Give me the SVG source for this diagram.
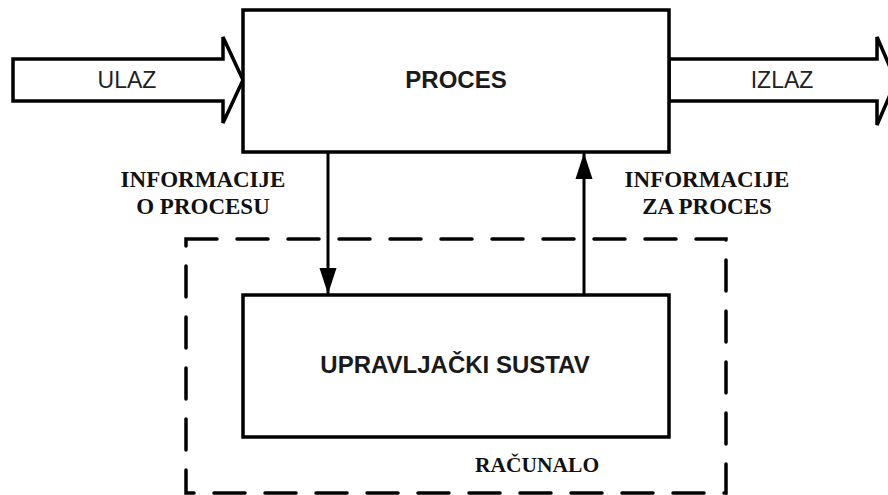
<svg xmlns="http://www.w3.org/2000/svg" width="888" height="495" viewBox="0 0 888 495">
<style>
.box{fill:#fff;stroke:#000;stroke-width:3.5}
.ln{fill:none;stroke:#000;stroke-width:3}
.big{fill:#fff;stroke:#000;stroke-width:3.5;stroke-linejoin:miter}
.sans{font-family:"Liberation Sans",Arial,sans-serif;font-size:23px;fill:#222}
.sansb{font-family:"Liberation Sans",Arial,sans-serif;font-size:24px;font-weight:bold;fill:#1a1a1a}
.serif{font-family:"Liberation Serif","Times New Roman",serif;font-size:23px;font-weight:bold;fill:#111}
</style>
<defs>
<marker id="ah" markerWidth="26" markerHeight="18" refX="26" refY="9" orient="auto" markerUnits="userSpaceOnUse">
<path d="M0,0.5 L26,9 L0,17.5 Z" fill="#000"/>
</marker>
</defs>
<g id="racunalo">
<rect x="186" y="239" width="540" height="254" fill="none" stroke="#000" stroke-width="3.5" stroke-dasharray="31,20" stroke-linecap="round"/>
<text class="serif" x="537" y="472" text-anchor="middle" style="font-size:21.5px">RAČUNALO</text>
</g>
<g id="ulaz">
<path class="big" d="M13,59 L223,59 L223,37 L243,80 L223,123 L223,101 L13,101 Z"/>
<text class="sans" x="127" y="88" text-anchor="middle">ULAZ</text>
</g>
<g id="izlaz">
<path class="big" d="M669,59 L877,59 L877,37 L896,81 L877,125 L877,101 L669,101 Z"/>
<text class="sans" x="782" y="88" text-anchor="middle">IZLAZ</text>
</g>
<g id="proces">
<rect class="box" x="243" y="10" width="426" height="142"/>
<text class="sansb" x="456" y="88" text-anchor="middle">PROCES</text>
</g>
<g id="upravljacki">
<rect class="box" x="243" y="295" width="426" height="142"/>
<text class="sansb" x="455" y="373" text-anchor="middle">UPRAVLJAČKI SUSTAV</text>
</g>
<g id="connectors">
<line class="ln" x1="328" y1="152" x2="328" y2="294" marker-end="url(#ah)"/>
<line class="ln" x1="584" y1="295" x2="584" y2="153" marker-end="url(#ah)"/>
</g>
<g id="labels">
<text class="serif" x="203" y="187" text-anchor="middle">INFORMACIJE</text>
<text class="serif" x="203" y="214" text-anchor="middle">O PROCESU</text>
<text class="serif" x="707" y="187" text-anchor="middle">INFORMACIJE</text>
<text class="serif" x="707" y="214" text-anchor="middle">ZA PROCES</text>
</g>
</svg>
